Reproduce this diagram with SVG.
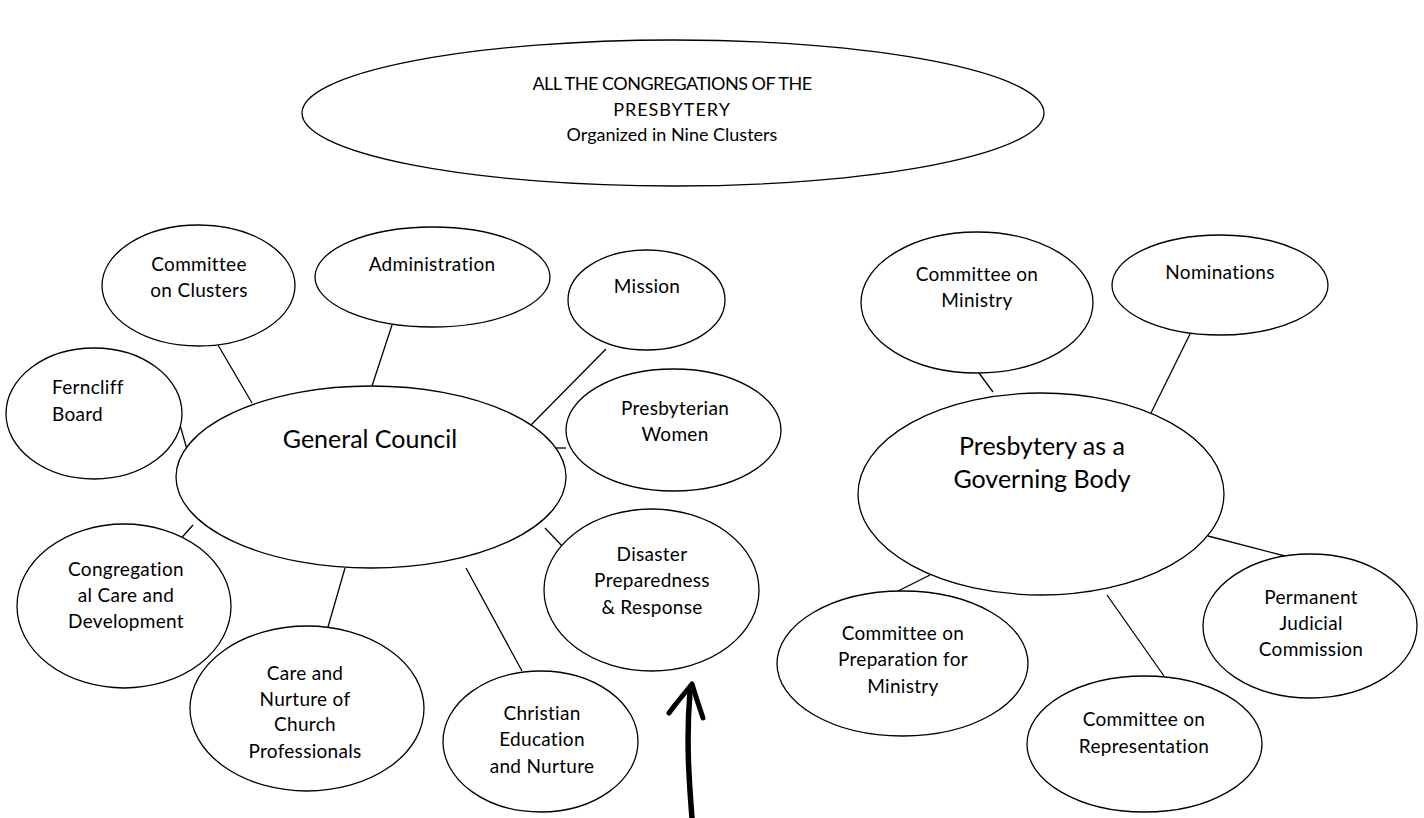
<svg xmlns="http://www.w3.org/2000/svg" width="1424" height="818" viewBox="0 0 1424 818">
<style>
  .n { fill: #fff; stroke: #000; stroke-width: 1.3; }
  .t { font-family: Lato, "Open Sans", "Liberation Sans", sans-serif; font-size: 19px; font-weight: 400; letter-spacing: 0.3px; fill: #000; text-anchor: middle; }
  .big { font-size: 25px; letter-spacing: 0; }
  .top { font-size: 18px; letter-spacing: 0; }
  .c line { stroke: #000; stroke-width: 1.3; }
</style>
<rect width="1424" height="818" fill="#fff"/>

<g id="connectors" class="c">
  <line x1="218" y1="345" x2="252" y2="403"/>
  <line x1="392" y1="325" x2="372" y2="386"/>
  <line x1="180" y1="425" x2="188" y2="453"/>
  <line x1="606" y1="349" x2="528" y2="428"/>
  <line x1="547" y1="448" x2="566" y2="448"/>
  <line x1="545" y1="528" x2="564" y2="548"/>
  <line x1="466" y1="568" x2="522" y2="671"/>
  <line x1="345" y1="568" x2="328" y2="627"/>
  <line x1="193" y1="525" x2="176" y2="544"/>
  <line x1="979" y1="373" x2="993" y2="392"/>
  <line x1="1190" y1="334" x2="1151" y2="413"/>
  <line x1="1208" y1="536" x2="1285" y2="556"/>
  <line x1="1107" y1="595" x2="1164" y2="676"/>
  <line x1="930" y1="575" x2="898" y2="591"/>
</g>

<g id="all-congregations">
  <ellipse class="n" cx="673" cy="113" rx="371" ry="73"/>
  <text class="t top" x="672" y="90" style="letter-spacing:-0.5px">ALL THE CONGREGATIONS OF THE</text>
  <text class="t top" x="672" y="116" style="letter-spacing:1px">PRESBYTERY</text>
  <text class="t top" x="672" y="141">Organized in Nine Clusters</text>
</g>

<g id="general-council">
  <ellipse class="n" cx="371" cy="477" rx="195" ry="91"/>
  <text class="t big" x="370" y="448">General Council</text>
</g>

<g id="committee-on-clusters">
  <ellipse class="n" cx="198.5" cy="285.5" rx="96.5" ry="60.5"/>
  <text class="t" x="199" y="271">Committee</text>
  <text class="t" x="199" y="297">on Clusters</text>
</g>

<g id="administration">
  <ellipse class="n" cx="432.5" cy="277" rx="117.5" ry="50"/>
  <text class="t" x="432" y="271">Administration</text>
</g>

<g id="mission">
  <ellipse class="n" cx="646.5" cy="300" rx="78.5" ry="50"/>
  <text class="t" x="647" y="293">Mission</text>
</g>

<g id="ferncliff-board">
  <ellipse class="n" cx="94" cy="413.5" rx="88" ry="65.5"/>
  <text class="t" x="52" y="394" style="text-anchor:start">Ferncliff</text>
  <text class="t" x="52" y="421" style="text-anchor:start">Board</text>
</g>

<g id="presbyterian-women">
  <ellipse class="n" cx="673.5" cy="430" rx="107.5" ry="61"/>
  <text class="t" x="675" y="415">Presbyterian</text>
  <text class="t" x="675" y="441">Women</text>
</g>

<g id="disaster-preparedness">
  <ellipse class="n" cx="651.5" cy="590" rx="107.5" ry="81"/>
  <text class="t" x="652" y="561">Disaster</text>
  <text class="t" x="652" y="587">Preparedness</text>
  <text class="t" x="652" y="614">&amp; Response</text>
</g>

<g id="congregational-care">
  <ellipse class="n" cx="124" cy="606" rx="107" ry="82"/>
  <text class="t" x="126" y="576">Congregation</text>
  <text class="t" x="126" y="602">al Care and</text>
  <text class="t" x="126" y="628">Development</text>
</g>

<g id="care-and-nurture">
  <ellipse class="n" cx="307" cy="708.5" rx="117" ry="82.5"/>
  <text class="t" x="305" y="680">Care and</text>
  <text class="t" x="305" y="706">Nurture of</text>
  <text class="t" x="305" y="731">Church</text>
  <text class="t" x="305" y="758">Professionals</text>
</g>

<g id="christian-education">
  <ellipse class="n" cx="540.5" cy="741.5" rx="97.5" ry="70.5"/>
  <text class="t" x="542" y="720">Christian</text>
  <text class="t" x="542" y="746">Education</text>
  <text class="t" x="542" y="773">and Nurture</text>
</g>

<g id="presbytery-governing-body">
  <ellipse class="n" cx="1041" cy="494" rx="183" ry="101"/>
  <text class="t big" x="1042" y="455">Presbytery as a</text>
  <text class="t big" x="1042" y="488">Governing Body</text>
</g>

<g id="committee-on-ministry">
  <ellipse class="n" cx="977" cy="302.5" rx="116" ry="70.5"/>
  <text class="t" x="977" y="281">Committee on</text>
  <text class="t" x="977" y="307">Ministry</text>
</g>

<g id="nominations">
  <ellipse class="n" cx="1220" cy="285" rx="108" ry="50"/>
  <text class="t" x="1220" y="279">Nominations</text>
</g>

<g id="committee-on-preparation">
  <ellipse class="n" cx="902.5" cy="663.5" rx="125.5" ry="72.5"/>
  <text class="t" x="903" y="640">Committee on</text>
  <text class="t" x="903" y="666">Preparation for</text>
  <text class="t" x="903" y="693">Ministry</text>
</g>

<g id="permanent-judicial-commission">
  <ellipse class="n" cx="1310" cy="626" rx="107" ry="72"/>
  <text class="t" x="1311" y="604">Permanent</text>
  <text class="t" x="1311" y="630">Judicial</text>
  <text class="t" x="1311" y="656">Commission</text>
</g>

<g id="committee-on-representation">
  <ellipse class="n" cx="1144.5" cy="744" rx="117.5" ry="68"/>
  <text class="t" x="1144" y="726">Committee on</text>
  <text class="t" x="1144" y="753">Representation</text>
</g>

<g id="hand-arrow" fill="none" stroke="#000" stroke-linecap="round" stroke-linejoin="round">
  <path d="M692 818 C 689 780, 686 740, 690 692" stroke-width="5.5"/>
  <path d="M669 713 L 675 705 L 692 684 L 697 700 L 703 718" stroke-width="5"/>
</g>
</svg>
